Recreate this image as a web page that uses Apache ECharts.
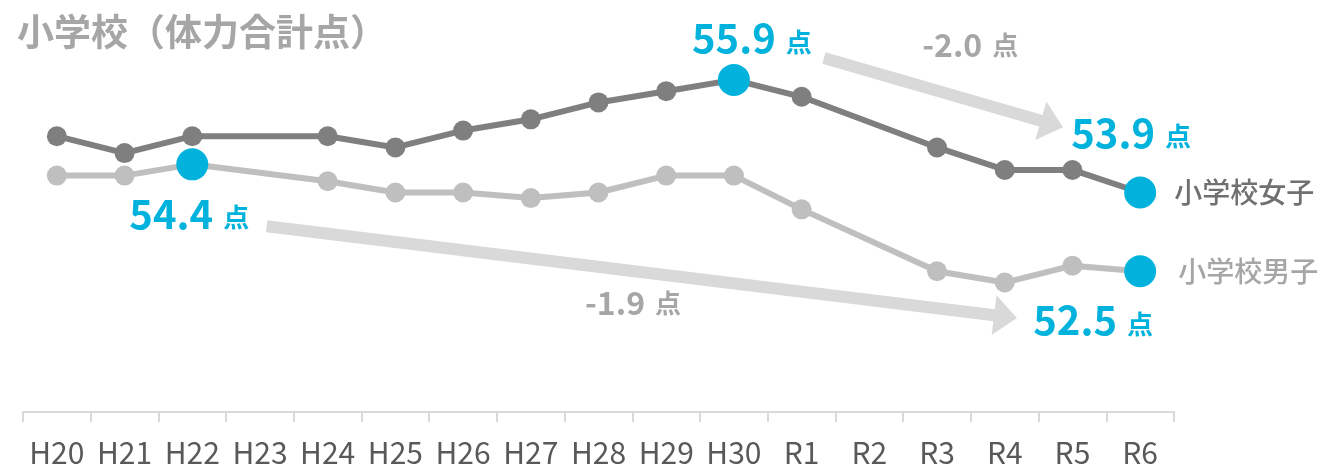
<!DOCTYPE html>
<html>
<head>
<meta charset="utf-8">
<script src="https://cdn.jsdelivr.net/npm/echarts@6/dist/echarts.min.js"></script>
<style>
  html, body { margin: 0; padding: 0; background: #fff; }
  #chart { width: 1324px; height: 468px; }
</style>
</head>
<body>
<div id="chart"></div>
<script>
// 年度
const years = ['H20', 'H21', 'H22', 'H23', 'H24', 'H25', 'H26', 'H27', 'H28', 'H29', 'H30', 'R1', 'R2', 'R3', 'R4', 'R5', 'R6']
// 体力合計点（H23・R2 は未実施）
const girls = [54.9, 54.6, 54.9, null, 54.9, 54.7, 55.0, 55.2, 55.5, 55.7, 55.9, 55.6, null, 54.7, 54.3, 54.3, 53.9]
const boys = [54.2, 54.2, 54.4, null, 54.1, 53.9, 53.9, 53.8, 53.9, 54.2, 54.2, 53.6, null, 52.5, 52.3, 52.6, 52.5]
// 強調する年度（比較の始点・終点）
const girlsMark = ['H30', 'R6']
const boysMark = ['H22', 'R6']

const FONT = 'Noto Sans CJK JP'
const CYAN = '#00b2dc'
const GIRL = '#7f7f7f'
const BOY = '#bfbfbf'

let chart = echarts.init(document.getElementById('chart'))

function valueRich(color, big, small) {
  return {
    n: { fontFamily: FONT, fontSize: big, fontWeight: 'bold', color: color },
    u: { fontFamily: FONT, fontSize: small, fontWeight: 'bold', color: color, verticalAlign: 'bottom', padding: [0, 0, 3, 10] }
  }
}

// 強調点のラベル位置
const labelOffset = {
  girls: { H30: [18, -42], R6: [-9, -60] },
  boys: { H22: [-3, 49], R6: [-47, 49] }
}

function buildData(values, marks, key) {
  return values.map(function (v, i) {
    let y = years[i]
    if (v !== null && marks.indexOf(y) >= 0) {
      return {
        value: v,
        symbolSize: 32,
        itemStyle: { color: CYAN },
        label: {
          show: true,
          position: 'inside',
          offset: labelOffset[key][y],
          formatter: '{n|' + v.toFixed(1) + '}{u|点}',
          rich: valueRich(CYAN, 40, 26)
        }
      }
    }
    return v
  })
}

function diff(values, marks) {
  let a = values[years.indexOf(marks[0])]
  let b = values[years.indexOf(marks[1])]
  return (b - a).toFixed(1)
}

chart.setOption({
  animation: false,
  title: {
    text: '小学校（体力合計点）',
    left: 12,
    top: 8,
    textStyle: { fontFamily: FONT, fontSize: 37, fontWeight: 'bold', color: '#a6a6a6' }
  },
  grid: { left: 23, right: 150, top: 18, bottom: 56 },
  xAxis: [{
    type: 'category',
    data: years,
    boundaryGap: true,
    axisLine: { lineStyle: { color: '#d9d9d9', width: 2 } },
    axisTick: { show: true, interval: 0, length: 10, lineStyle: { color: '#d9d9d9', width: 2 } },
    axisLabel: { interval: 0, fontFamily: FONT, fontSize: 30, color: '#595959', margin: 26 }
  }, {
    type: 'value',
    min: -0.5,
    max: 16.5,
    show: false
  }],
  yAxis: {
    type: 'value',
    min: 50,
    max: 57,
    show: false
  },
  series: [{
    name: '小学校男子',
    type: 'line',
    data: buildData(boys, boysMark, 'boys'),
    connectNulls: true,
    symbol: 'circle',
    symbolSize: 20,
    lineStyle: { color: BOY, width: 6 },
    itemStyle: { color: BOY },
    endLabel: {
      show: true,
      formatter: '{a}',
      distance: 38,
      fontFamily: FONT,
      fontSize: 28,
      fontWeight: 500,
      color: '#a6a6a6'
    },
    z: 3
  }, {
    name: '小学校女子',
    type: 'line',
    data: buildData(girls, girlsMark, 'girls'),
    connectNulls: true,
    symbol: 'circle',
    symbolSize: 20,
    lineStyle: { color: GIRL, width: 6 },
    itemStyle: { color: GIRL },
    endLabel: {
      show: true,
      formatter: '{a}',
      distance: 34,
      fontFamily: FONT,
      fontSize: 28,
      fontWeight: 500,
      color: '#707070'
    },
    z: 4
  }, {
    // 変化量の注記
    name: 'annotation',
    type: 'line',
    xAxisIndex: 1,
    data: [],
    z: 1,
    markPoint: {
      silent: true,
      symbol: 'circle',
      symbolSize: 0,
      label: {
        show: true,
        position: 'inside',
        rich: valueRich('#a6a6a6', 32, 26)
      },
      data: [
        { coord: [13.49, 56.52], label: { formatter: '{n|' + diff(girls, girlsMark) + '}{u|点}' } },
        { coord: [8.51, 51.94], label: { formatter: '{n|' + diff(boys, boysMark) + '}{u|点}' } }
      ]
    }
  }]
})

// 矢印（データ座標 → ピクセル）
function arrow(from, to) {
  let t = chart.convertToPixel({ xAxisIndex: 1, yAxisIndex: 0 }, from)
  let p = chart.convertToPixel({ xAxisIndex: 1, yAxisIndex: 0 }, to)
  let dx = p[0] - t[0]
  let dy = p[1] - t[1]
  let len = Math.sqrt(dx * dx + dy * dy)
  let ux = dx / len
  let uy = dy / len
  let nx = -uy
  let ny = ux
  let headLen = 23
  let shaft = 6
  let head = 20
  let bx = p[0] - ux * headLen
  let by = p[1] - uy * headLen
  return {
    type: 'polygon',
    silent: true,
    z: 0,
    shape: {
      points: [
        [t[0] + nx * shaft, t[1] + ny * shaft],
        [bx + nx * shaft, by + ny * shaft],
        [bx + nx * head, by + ny * head],
        [p[0], p[1]],
        [bx - nx * head, by - ny * head],
        [bx - nx * shaft, by - ny * shaft],
        [t[0] - nx * shaft, t[1] - ny * shaft]
      ]
    },
    style: { fill: '#d9d9d9' }
  }
}

chart.setOption({
  graphic: [
    arrow([11.33, 56.29], [14.86, 55.06]),
    arrow([3.10, 53.30], [14.18, 51.67])
  ]
})
</script>
</body>
</html>
